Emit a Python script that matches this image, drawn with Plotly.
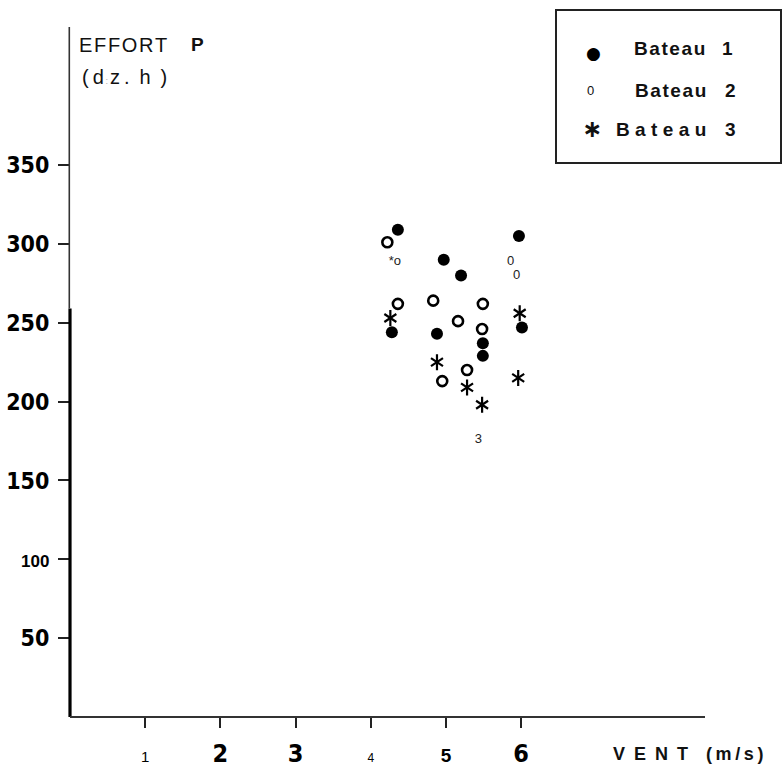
import plotly.graph_objects as go

# ---------------- data ----------------
b1_vent = [4.36, 4.28, 4.97, 4.88, 5.20, 5.49, 5.49, 5.97, 6.01]
b1_effort = [309, 244, 290, 243, 280, 237, 229, 305, 247]

b2_vent = [4.22, 4.36, 4.83, 5.16, 5.49, 5.48, 5.28, 4.95]
b2_effort = [301, 262, 264, 251, 262, 246, 220, 213]

b3_vent = [4.26, 4.88, 5.28, 5.48, 5.98, 5.96]
b3_effort = [253, 225, 209, 198, 256, 215]

# stray characters printed in the scanned figure
stray_text = ["*o", "0", "0", "3"]
stray_vent = [4.32, 5.86, 5.94, 5.43]
stray_effort = [288.5, 288.5, 279.6, 175.6]

x_tick_vals = [1, 2, 3, 4, 5, 6]
x_tick_labels = ["1", "2", "3", "4", "5", "6"]
y_tick_vals = [50, 100, 150, 200, 250, 300, 350]
y_tick_labels = ["50", "100", "150", "200", "250", "300", "350"]

legend_words = ["Bateau", "Bateau", "Bateau"]
legend_nums = ["1", "2", "3"]

# ---------------- styling ----------------
NARROW = "DejaVu Sans Condensed, Liberation Sans Narrow, Arial Narrow, sans-serif"
SANS = "Liberation Sans, Arial, sans-serif"

X_MAX = 700 / 75.2
Y_MAX = 690 / 1.577
THICK_TOP = 259

x_styles = {
    "1": f"font-size:15px;font-weight:normal;font-family:{SANS}",
    "2": "font-size:25px;font-weight:bold",
    "3": "font-size:25px;font-weight:bold",
    "4": f"font-size:12px;font-weight:normal;font-family:{SANS}",
    "5": f"font-size:19px;font-weight:bold;font-family:{SANS}",
    "6": "font-size:25px;font-weight:bold",
}
y_styles = {
    "100": f"font-size:17px;font-weight:bold;font-family:{SANS}",
}
def fmt(lbl, styles, default):
    return f"<span style='{styles.get(lbl, default)}'>{lbl}</span>"

x_text = [fmt(l, x_styles, "font-size:24px;font-weight:bold") for l in x_tick_labels]
y_text = [fmt(l, y_styles, "font-size:23px;font-weight:bold") for l in y_tick_labels]

fig = go.Figure()

fig.add_trace(go.Scatter(
    x=b1_vent, y=b1_effort, mode="markers", name="Bateau 1",
    marker=dict(symbol="circle", size=12, color="black"),
))
fig.add_trace(go.Scatter(
    x=b2_vent, y=b2_effort, mode="markers", name="Bateau 2",
    marker=dict(symbol="circle-open", size=10, color="black",
                line=dict(width=2.6, color="black")),
))
for sym in ["y-up-open", "y-down-open"]:
    fig.add_trace(go.Scatter(
        x=b3_vent, y=b3_effort, mode="markers", name="Bateau 3",
        marker=dict(symbol=sym, size=10, color="black",
                    line=dict(width=2.2, color="black")),
    ))

fig.add_trace(go.Scatter(
    x=stray_vent, y=stray_effort, mode="text", text=stray_text,
    textfont=dict(family=SANS, size=13, color="#222"),
    hoverinfo="skip",
))

shapes = [
    # y axis: thick lower part, thin upper part
    dict(type="line", xref="paper", yref="paper", x0=0, x1=0,
         y0=0, y1=THICK_TOP / Y_MAX, line=dict(color="black", width=3.2)),
    dict(type="line", xref="paper", yref="paper", x0=-0.001, x1=-0.001,
         y0=THICK_TOP / Y_MAX, y1=1, line=dict(color="#333", width=1.6)),
    # x axis
    dict(type="line", xref="paper", yref="paper", x0=0, x1=(705 - 70) / 700,
         y0=0, y1=0, line=dict(color="#333", width=2)),
    # legend box
    dict(type="rect", xref="paper", yref="paper",
         x0=(556 - 70) / 700, x1=(781 - 70) / 700,
         y0=(717 - 163) / 690, y1=(717 - 10) / 690,
         line=dict(color="#222", width=2), fillcolor="rgba(0,0,0,0)"),
]

def px(xp):
    return (xp - 70) / 700

def py(yp):
    return (717 - yp) / 690

HS = "\u200a"
TS = "\u2009"
EN = "\u2002"
annotations = [
    dict(text=HS.join("EFFORT"), x=px(77), y=py(45), xanchor="left", yanchor="middle",
         font=dict(family=SANS, size=20, color="#111")),
    dict(text="<b>P</b>", x=px(189), y=py(45), xanchor="left", yanchor="middle",
         font=dict(family=SANS, size=19, color="#111")),
    dict(text=f"({TS}d<span style='color:#aaa;font-size:9px'>{TS}:{TS}</span>z{TS}.{EN}h{EN})",
         x=px(80), y=py(77), xanchor="left", yanchor="middle",
         font=dict(family=SANS, size=20, color="#111")),
    dict(text=f"<b>V{EN}E{EN}N{EN}T{EN}{EN}({TS}m{TS}/{TS}s{TS})</b>",
         x=px(611), y=py(754), xanchor="left", yanchor="middle",
         font=dict(family=SANS, size=18, color="#111")),
    # legend markers
    dict(text="\u25CF", x=px(593), y=py(53), xanchor="center", yanchor="middle",
         font=dict(family="DejaVu Sans", size=17, color="black")),
    dict(text="0", x=px(590), y=py(91), xanchor="center", yanchor="middle",
         font=dict(family=SANS, size=13, color="#111")),
    dict(text="<b>\u2217</b>", x=px(592), y=py(129), xanchor="center", yanchor="middle",
         font=dict(family="DejaVu Sans", size=24, color="#111")),
    # legend words
    dict(text="<b>" + HS.join(legend_words[0]) + "</b>", x=px(632), y=py(49),
         xanchor="left", yanchor="middle", font=dict(family=SANS, size=19, color="#111")),
    dict(text="<b>" + HS.join(legend_words[1]) + "</b>", x=px(633), y=py(90),
         xanchor="left", yanchor="middle", font=dict(family=SANS, size=19, color="#111")),
    dict(text="<b>" + (TS + HS).join(legend_words[2]) + "</b>", x=px(614), y=py(130),
         xanchor="left", yanchor="middle", font=dict(family=SANS, size=19, color="#111")),
    dict(text="<b>" + legend_nums[0] + "</b>", x=px(735), y=py(49),
         xanchor="right", yanchor="middle", font=dict(family=SANS, size=19, color="#111")),
    dict(text="<b>" + legend_nums[1] + "</b>", x=px(738), y=py(90),
         xanchor="right", yanchor="middle", font=dict(family=SANS, size=19, color="#111")),
    dict(text="<b>" + legend_nums[2] + "</b>", x=px(738), y=py(130),
         xanchor="right", yanchor="middle", font=dict(family=SANS, size=19, color="#111")),
]
for a in annotations:
    a.setdefault("xref", "paper")
    a.setdefault("yref", "paper")
    a["showarrow"] = False

fig.update_layout(
    width=783, height=771,
    margin=dict(l=70, r=13, t=27, b=54, autoexpand=False),
    paper_bgcolor="white", plot_bgcolor="white",
    shapes=shapes, annotations=annotations,
    showlegend=False,
    font=dict(family=NARROW, color="black"),
)
fig.update_xaxes(
    range=[0, X_MAX], showgrid=False, zeroline=False, showline=False,
    automargin=False,
    tickmode="array", tickvals=x_tick_vals, ticktext=x_text,
    ticks="outside", ticklen=10, tickwidth=1.5, tickcolor="#222",
    ticklabelstandoff=5,
    tickfont=dict(family=NARROW, size=24, color="black"),
)
fig.update_yaxes(
    range=[0, Y_MAX], showgrid=False, zeroline=False, showline=False,
    automargin=False,
    tickmode="array", tickvals=y_tick_vals, ticktext=y_text,
    ticks="outside", ticklen=11, tickwidth=1.5, tickcolor="#222",
    ticklabelstandoff=4,
    tickfont=dict(family=NARROW, size=23, color="black"),
)

fig.write_html("out.html")
